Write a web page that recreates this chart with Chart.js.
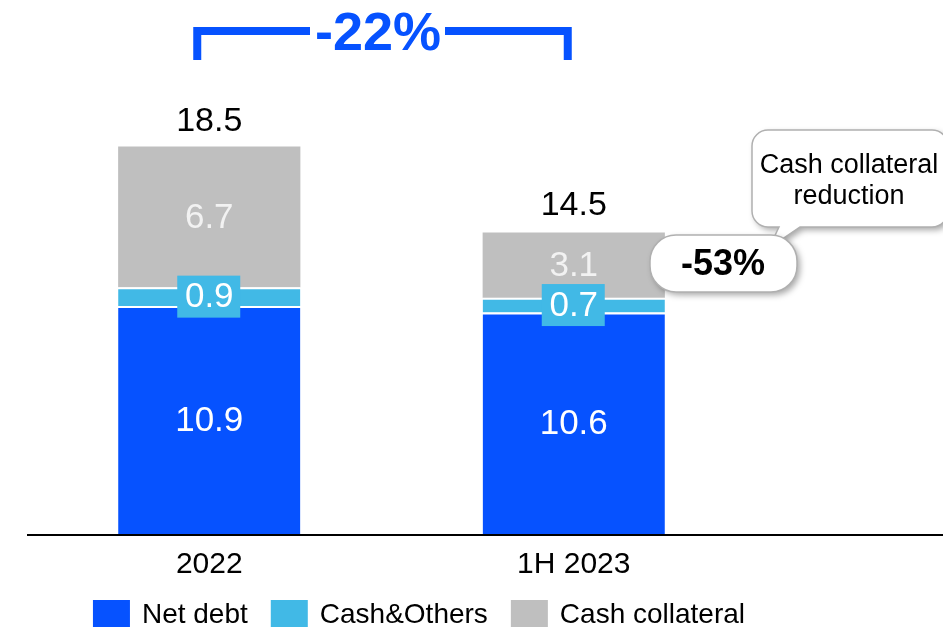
<!DOCTYPE html>
<html>
<head>
<meta charset="utf-8">
<script src="https://cdn.jsdelivr.net/npm/chart.js@4.4.0/dist/chart.umd.min.js"></script>
<style>
  html, body { margin: 0; padding: 0; background: #fff; }
</style>
</head>
<body>
<canvas id="debt-chart" width="943" height="627"></canvas>
<script>
// chart data
const periods = ['2022', '1H 2023'];
const netDebt = [10.9, 10.6];
const cashOthers = [0.9, 0.7];
const cashCollateral = [6.7, 3.1];
const totals = [18.5, 14.5];
const totalChange = '-22%';
const collateralChange = '-53%';
const calloutLines = ['Cash collateral', 'reduction'];

const FONT = "'Liberation Sans', Arial, sans-serif";
const BLUE = '#0652ff';
const CYAN = '#41b9e6';
const GREY = '#bfbfbf';

function roundedRect(ctx, x, y, w, h, r) {
    ctx.beginPath();
    ctx.moveTo(x + r, y);
    ctx.arcTo(x + w, y, x + w, y + h, r);
    ctx.arcTo(x + w, y + h, x, y + h, r);
    ctx.arcTo(x, y + h, x, y, r);
    ctx.arcTo(x, y, x + w, y, r);
    ctx.closePath();
}

// value labels inside the segments + totals on top
const valueLabels = {
    id: 'valueLabels',
    afterDatasetsDraw(chart) {
        const ctx = chart.ctx;
        const area = chart.chartArea;
        ctx.save();

        // baseline
        ctx.strokeStyle = '#000';
        ctx.lineWidth = 2;
        ctx.beginPath();
        ctx.moveTo(area.left, area.bottom);
        ctx.lineTo(chart.width, area.bottom);
        ctx.stroke();

        ctx.textAlign = 'center';
        ctx.textBaseline = 'middle';
        chart.data.datasets.forEach(function(ds, i) {
            chart.getDatasetMeta(i).data.forEach(function(bar, j) {
                const cy = (bar.y + bar.base) / 2;
                if (ds.labelBox) {
                    ctx.fillStyle = ds.backgroundColor;
                    ctx.fillRect(bar.x - 32, cy - 21, 63, 42);
                }
                ctx.font = '35px ' + FONT;
                ctx.fillStyle = ds.labelColor || '#fff';
                ctx.fillText(ds.data[j].toFixed(1), bar.x, cy + 1);
            });
        });

        const yScale = chart.scales.y;
        totals.forEach(function(t, j) {
            const x = chart.getDatasetMeta(0).data[j].x;
            ctx.fillStyle = '#000';
            ctx.font = '34px ' + FONT;
            ctx.fillText(t.toFixed(1), x, yScale.getPixelForValue(t) - 25);
        });
        ctx.restore();
    }
};

// bracket, callouts and legend
const annotations = {
    id: 'annotations',
    afterDraw(chart) {
        const ctx = chart.ctx;
        const xs = chart.scales.x;
        const x1 = xs.getPixelForValue(0) - 12;
        const x2 = xs.getPixelForValue(1) - 6;
        const midX = 378;
        ctx.save();

        // -22% bracket
        ctx.strokeStyle = BLUE;
        ctx.lineWidth = 8;
        ctx.lineJoin = 'miter';
        ctx.beginPath();
        ctx.moveTo(x1, 60);
        ctx.lineTo(x1, 31);
        ctx.lineTo(midX - 68, 31);
        ctx.moveTo(midX + 67, 31);
        ctx.lineTo(x2, 31);
        ctx.lineTo(x2, 60);
        ctx.stroke();
        ctx.fillStyle = BLUE;
        ctx.font = 'bold 54px ' + FONT;
        ctx.textAlign = 'center';
        ctx.textBaseline = 'middle';
        ctx.fillText(totalChange, midX, 35);

        // speech bubble
        ctx.save();
        ctx.shadowColor = 'rgba(0,0,0,0.35)';
        ctx.shadowBlur = 6;
        ctx.shadowOffsetX = 3;
        ctx.shadowOffsetY = 3;
        const bx = 752, by = 130, bw = 196, bh = 97, r = 16;
        ctx.beginPath();
        ctx.moveTo(bx + r, by);
        ctx.arcTo(bx + bw, by, bx + bw, by + bh, r);
        ctx.arcTo(bx + bw, by + bh, bx, by + bh, r);
        ctx.lineTo(800, by + bh);
        ctx.lineTo(769, 248);
        ctx.lineTo(779, by + bh);
        ctx.arcTo(bx, by + bh, bx, by, r);
        ctx.arcTo(bx, by, bx + bw, by, r);
        ctx.closePath();
        ctx.fillStyle = '#fff';
        ctx.fill();
        ctx.restore();
        ctx.strokeStyle = '#b0b0b0';
        ctx.lineWidth = 1.5;
        ctx.stroke();
        ctx.fillStyle = '#000';
        ctx.font = '27px ' + FONT;
        ctx.fillText(calloutLines[0], 849, 166);
        ctx.fillText(calloutLines[1], 849, 197);

        // -53% pill
        ctx.save();
        ctx.shadowColor = 'rgba(0,0,0,0.35)';
        ctx.shadowBlur = 6;
        ctx.shadowOffsetX = 3;
        ctx.shadowOffsetY = 3;
        roundedRect(ctx, 650, 235, 147, 57, 26);
        ctx.fillStyle = '#fff';
        ctx.fill();
        ctx.restore();
        ctx.strokeStyle = '#b0b0b0';
        ctx.lineWidth = 1.5;
        roundedRect(ctx, 650, 235, 147, 57, 26);
        ctx.stroke();
        ctx.fillStyle = '#000';
        ctx.font = 'bold 36px ' + FONT;
        ctx.fillText(collateralChange, 723, 265);

        // legend
        ctx.font = '28px ' + FONT;
        ctx.textAlign = 'left';
        const items = chart.data.datasets.map(function(ds) {
            return {label: ds.label, color: ds.backgroundColor, w: 37 + 12 + ctx.measureText(ds.label).width};
        });
        const gap = 23;
        const total = items.reduce(function(s, it) { return s + it.w; }, 0) + gap * (items.length - 1);
        let lx = 419 - total / 2;
        items.forEach(function(it) {
            ctx.fillStyle = it.color;
            ctx.fillRect(lx, 600, 37, 28);
            ctx.fillStyle = '#000';
            ctx.fillText(it.label, lx + 49, 615);
            lx += it.w + gap;
        });
        ctx.restore();
    }
};

const ctx = document.getElementById('debt-chart').getContext('2d');
new Chart(ctx, {
    type: 'bar',
    data: {
        labels: periods,
        datasets: [
            {label: 'Net debt', data: netDebt, backgroundColor: BLUE,
             borderColor: '#fff', borderWidth: {top: 2, left: 0, right: 0, bottom: 0}},
            {label: 'Cash&Others', data: cashOthers, backgroundColor: CYAN, labelBox: true,
             borderColor: '#fff', borderWidth: {top: 2, left: 0, right: 0, bottom: 0}},
            {label: 'Cash collateral', data: cashCollateral, backgroundColor: GREY,
             labelColor: '#f2f2f2', borderWidth: 0}
        ]
    },
    options: {
        responsive: false,
        animation: false,
        devicePixelRatio: 1,
        layout: { padding: {left: 27, right: 187, top: 115, bottom: 32} },
        datasets: { bar: { barPercentage: 0.5, categoryPercentage: 1.0, borderSkipped: false } },
        plugins: {
            legend: { display: false },
            tooltip: { enabled: false }
        },
        scales: {
            x: {
                stacked: true,
                grid: { display: false, drawTicks: false },
                border: { display: false },
                ticks: { color: '#000', padding: 12, font: { size: 30, family: FONT } }
            },
            y: {
                stacked: true,
                display: false,
                min: 0,
                max: 20
            }
        }
    },
    plugins: [valueLabels, annotations]
});
</script>
</body>
</html>
